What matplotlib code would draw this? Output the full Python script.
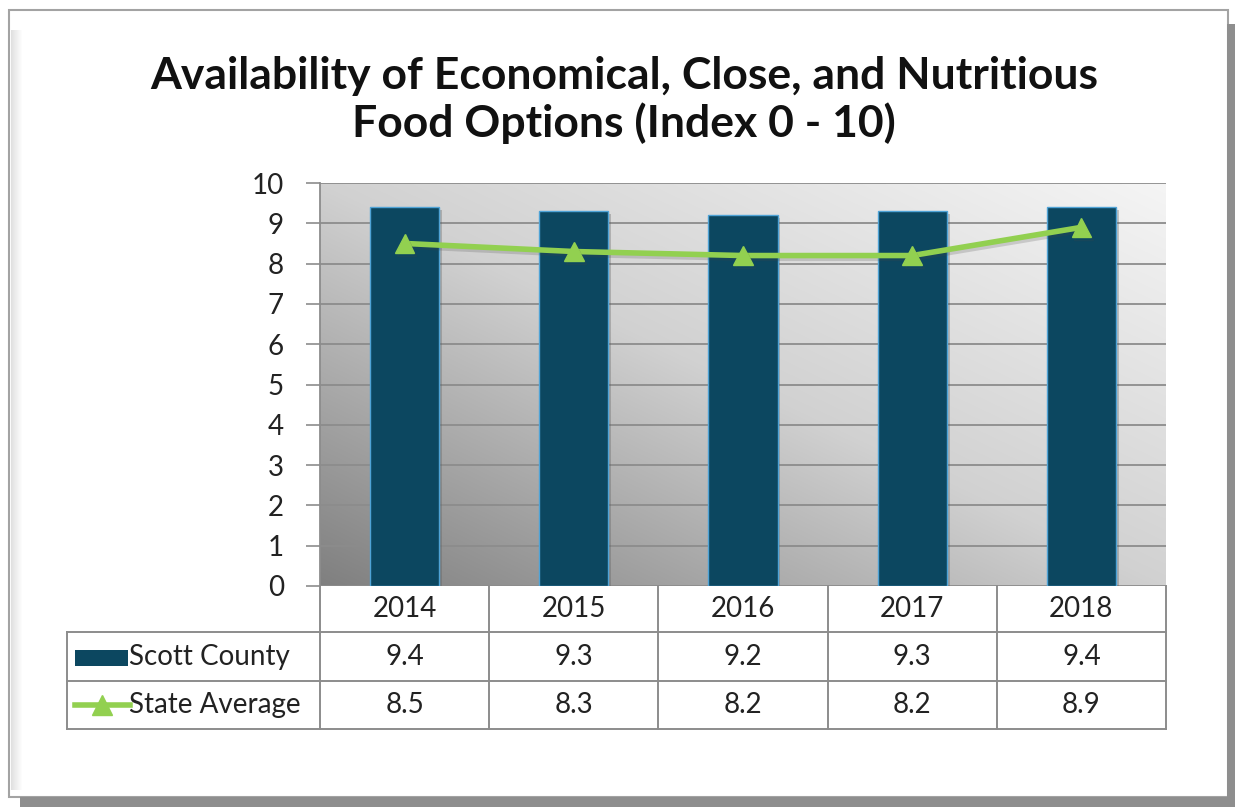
import numpy as np
import matplotlib
matplotlib.use("Agg")
import matplotlib.pyplot as plt
from matplotlib import patches, transforms
import matplotlib.patheffects as pe

years = ["2014", "2015", "2016", "2017", "2018"]
scott_county = [9.4, 9.3, 9.2, 9.3, 9.4]
state_average = [8.5, 8.3, 8.2, 8.2, 8.9]
series_names = ["Scott County", "State Average"]
title = "Availability of Economical, Close, and Nutritious\nFood Options (Index 0 - 10)"

W, H = 1235, 807
FONT = "Lato"
FS = 20
BAR_C = "#0c4760"
BAR_EDGE = "#4fa3d6"
LINE_C = "#92d050"
GRID_C = "#8c8c8c"
TXT_C = "#222222"

fig = plt.figure(figsize=(W / 100, H / 100), dpi=100)
fig.patch.set_facecolor("white")

def fx(px):
    return px / W

def fy(py):
    return 1 - py / H

# outer frame (bevel look)
fig.add_artist(patches.Rectangle((fx(9), fy(797)), fx(1219), 787 / H, transform=fig.transFigure,
                                 facecolor="white", edgecolor="#a3a3a3", lw=1.5, zorder=0))
for i in range(12):
    c = 0.88 + 0.12 * i / 11
    fig.add_artist(patches.Rectangle((fx(11 + i), fy(790)), fx(1), 760 / H, transform=fig.transFigure,
                                     facecolor=(c, c, c), edgecolor="none", zorder=0.5))
fig.add_artist(patches.Rectangle((fx(1227), 0), fx(8), fy(24), transform=fig.transFigure,
                                 facecolor="#8e8e8e", edgecolor="none", zorder=1))
fig.add_artist(patches.Rectangle((fx(20), 0), fx(1215), 10 / H, transform=fig.transFigure,
                                 facecolor="#8e8e8e", edgecolor="none", zorder=1))

# plot axes
L, R, T, B = 320, 1166, 183, 586
ax = fig.add_axes([fx(L), fy(B), fx(R - L), (B - T) / H])
ax.set_facecolor("none")

x = np.arange(len(years))
ax.set_xlim(-0.5, len(years) - 0.5)
ax.set_ylim(0, 10)

# gradient background
nx, ny = 300, 150
gx, gy = np.meshgrid(np.linspace(0, 1, nx), np.linspace(1, 0, ny))
t = ((1 - gx) + (1 - gy)) / 2
v = np.interp(t, [0, 0.5, 1.0], [0.96, 0.82, 0.50])
img = np.dstack([v, v, v])
ax.imshow(img, extent=[-0.5, len(years) - 0.5, 0, 10], aspect="auto", zorder=0, interpolation="bilinear")

ax.yaxis.grid(True, color=GRID_C, lw=1.3, zorder=1)
ax.set_axisbelow(True)
ax.set_yticks(range(0, 11))
ax.tick_params(axis="y", length=10, width=1.2, color=GRID_C, labelsize=FS, pad=16)
ax.tick_params(axis="x", bottom=False, labelbottom=False)
for lab in ax.get_yticklabels():
    lab.set_fontfamily(FONT)
    lab.set_color(TXT_C)
for s in ["top", "right", "bottom"]:
    ax.spines[s].set_visible(False)
ax.spines["left"].set_color(GRID_C)
ax.spines["left"].set_linewidth(1.3)

bars = ax.bar(x, scott_county, width=0.41, color=BAR_C, edgecolor=BAR_EDGE, lw=1.0, zorder=3)
for b in bars:
    b.set_path_effects([pe.SimplePatchShadow(offset=(2, -2), shadow_rgbFace="#555555", alpha=0.3), pe.Normal()])

ax.plot(x, state_average, color=LINE_C, lw=4, marker="^", markersize=14, zorder=4,
        path_effects=[pe.SimpleLineShadow(offset=(1.5, -2), shadow_color="#444444", alpha=0.2), pe.Normal()])

# title
fig.text(fx(624), fy(100), title, ha="center", va="center", fontsize=32, fontweight="bold",
         fontfamily=FONT, color="#111111", linespacing=1.2)

# data table
tr = transforms.blended_transform_factory(ax.transData, fig.transFigure)
TL = 67
rows_y = [586, 632, 681, 729]
lc = "#8c8c8c"
lw = 1.4
for k in range(len(years) + 1):
    xd = k - 0.5
    ax.plot([xd, xd], [fy(586), fy(729)], transform=tr, color=lc, lw=lw, clip_on=False)
fig.add_artist(plt.Line2D([fx(TL), fx(TL)], [fy(632), fy(729)], transform=fig.transFigure, color=lc, lw=lw))
for yy in rows_y[1:]:
    fig.add_artist(plt.Line2D([fx(TL), fx(R)], [fy(yy), fy(yy)], transform=fig.transFigure, color=lc, lw=lw))

for i, yr in enumerate(years):
    ax.text(i, fy(609), yr, transform=tr, ha="center", va="center", fontsize=FS, fontfamily=FONT, color=TXT_C)
    ax.text(i, fy(657), f"{scott_county[i]:.1f}", transform=tr, ha="center", va="center", fontsize=FS,
            fontfamily=FONT, color=TXT_C)
    ax.text(i, fy(705), f"{state_average[i]:.1f}", transform=tr, ha="center", va="center", fontsize=FS,
            fontfamily=FONT, color=TXT_C)

# legend keys
fig.add_artist(patches.Rectangle((fx(75), fy(666)), fx(53), 16 / H, transform=fig.transFigure,
                                 facecolor=BAR_C, edgecolor="none"))
fig.add_artist(plt.Line2D([fx(75), fx(130)], [fy(705), fy(705)], transform=fig.transFigure,
                          color=LINE_C, lw=4))
fig.add_artist(plt.Line2D([fx(102)], [fy(705)], transform=fig.transFigure, color=LINE_C,
                          marker="^", markersize=14, lw=0))
fig.text(fx(129), fy(657), series_names[0], ha="left", va="center", fontsize=FS, fontfamily=FONT, color=TXT_C)
fig.text(fx(129), fy(705), series_names[1], ha="left", va="center", fontsize=FS, fontfamily=FONT, color=TXT_C)

fig.savefig("out.png", dpi=100, facecolor="white")
